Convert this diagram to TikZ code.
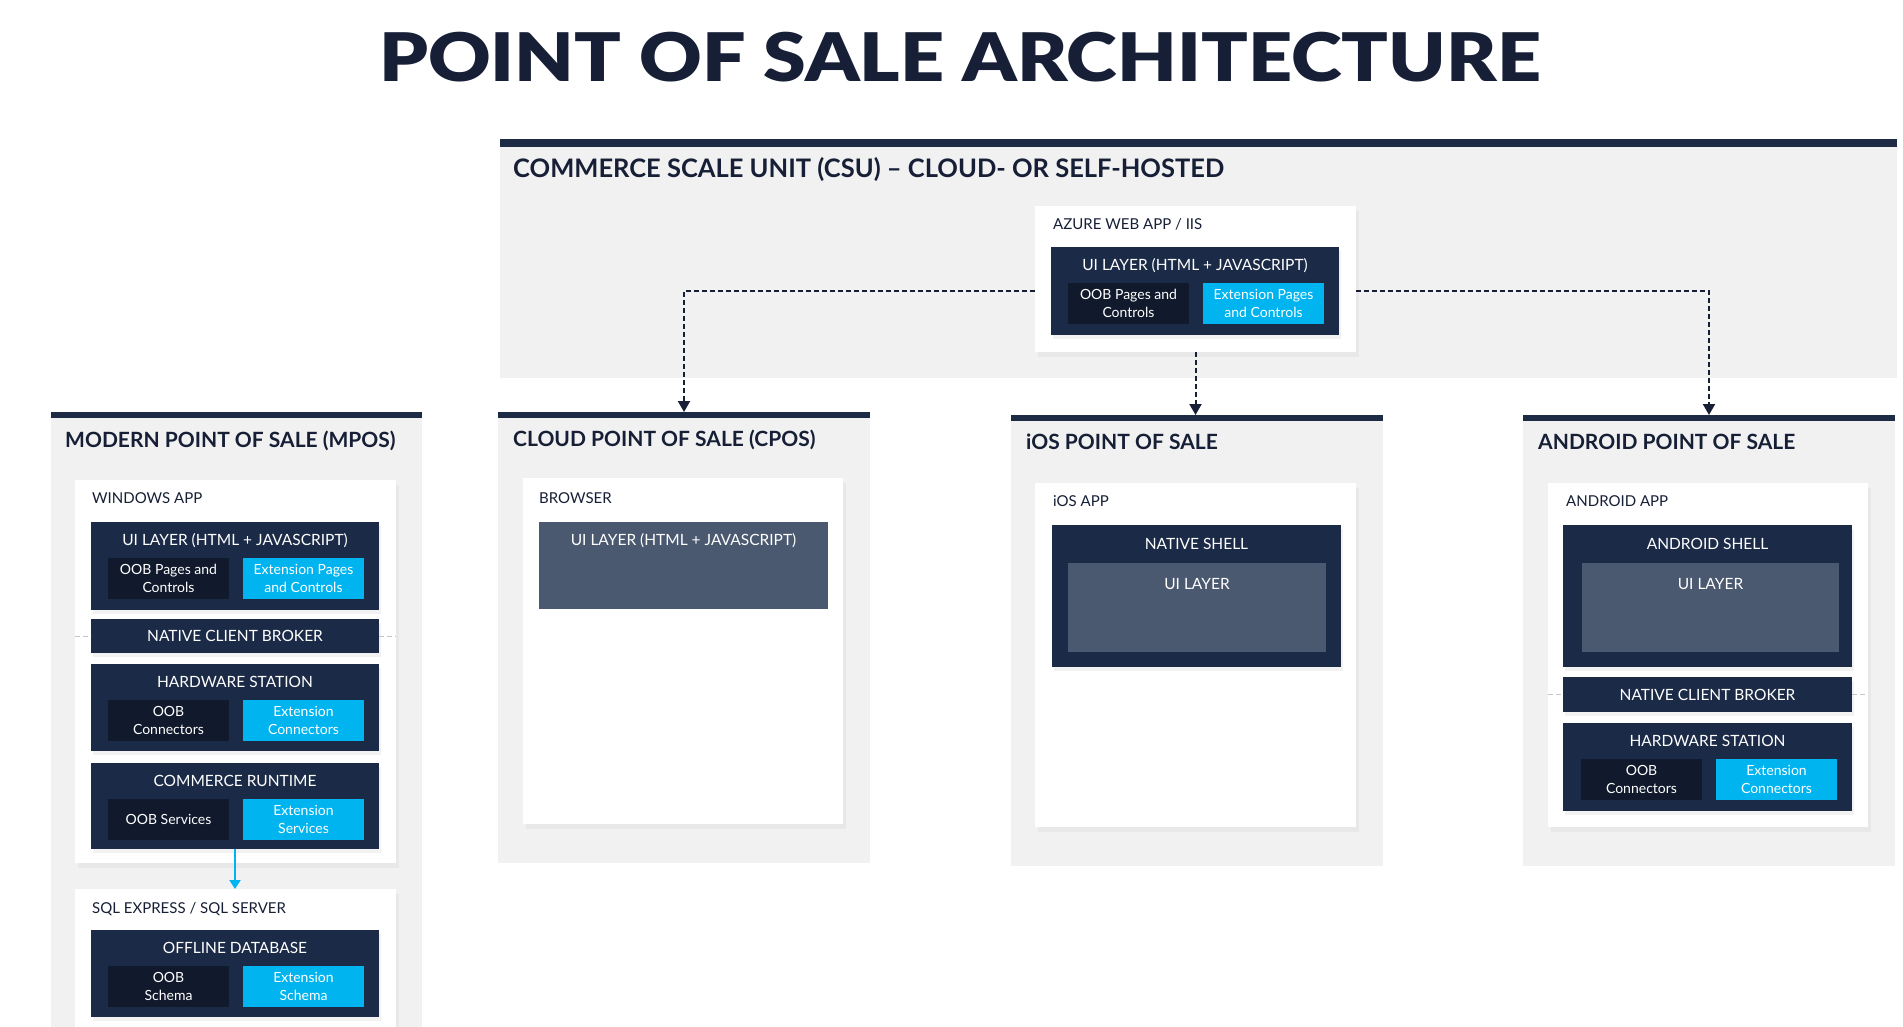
\documentclass[tikz,border=0pt]{standalone}
\usepackage{fontspec}
\setmainfont{Lato}
\newfontfamily\blackfont{Lato Black}
\usetikzlibrary{positioning, arrows.meta, shadows}

\definecolor{navy}{HTML}{1B2A47}
\definecolor{oobnavy}{HTML}{111A2D}
\definecolor{extcyan}{HTML}{00B4EF}
\definecolor{slate}{HTML}{4A5870}
\definecolor{panelgray}{HTML}{F1F1F2}
\definecolor{barnavy}{HTML}{1D2B45}
\definecolor{inkdark}{HTML}{161F35}

\begin{document}
\begin{tikzpicture}[x=1pt, y=-1pt,
    % Define node styles
    box/.style={
        rectangle,
        anchor=north west,
        inner sep=0pt,
        outer sep=0pt
    },
    bar/.style={box, fill=barnavy, minimum height=6pt},
    panel/.style={box, fill=panelgray},
    app/.style={
        box,
        fill=white,
        drop shadow={shadow xshift=3pt, shadow yshift=-5pt, opacity=0.08}
    },
    layer/.style={
        box,
        fill=navy,
        text=white,
        font=\fontsize{15.5}{18}\selectfont,
        drop shadow={shadow xshift=2pt, shadow yshift=-4pt, opacity=0.10}
    },
    uilayer/.style={box, fill=slate},
    sub/.style={
        box,
        minimum width=121pt,
        minimum height=41pt,
        align=center,
        text=white,
        font=\fontsize{14}{18.5}\selectfont
    },
    oob/.style={sub, fill=oobnavy},
    ext/.style={sub, fill=extcyan},
    hdr/.style={
        anchor=base west,
        inner sep=0pt,
        text=inkdark,
        font=\bfseries\fontsize{21}{24}\selectfont
    },
    applbl/.style={
        anchor=base west,
        inner sep=0pt,
        text=inkdark,
        font=\fontsize{15}{18}\selectfont
    },
    ltitle/.style={
        anchor=base,
        inner sep=0pt,
        text=white,
        font=\fontsize{15.5}{18}\selectfont
    },
    link/.style={
        draw=inkdark,
        line width=2pt,
        dash pattern=on 5pt off 3pt,
        -{Triangle[length=11pt, width=12pt]}
    },
    dblink/.style={
        draw=extcyan,
        line width=2pt,
        -{Triangle[length=9pt, width=11pt]}
    },
    broker/.style={draw=gray!45, line width=1pt, dash pattern=on 5pt off 3pt}
]
    \useasboundingbox (0,0) rectangle (1903,1026);
    \clip (0,0) rectangle (1903,1026);

    % Title
    \node[font=\blackfont\fontsize{67}{70}\selectfont, text=inkdark, xscale=1.15] (title) at (960,57) {POINT OF SALE ARCHITECTURE};

    % Commerce scale unit
    \node[bar, minimum width=1397pt, minimum height=8pt] (csubar) at (500,139) {};
    \node[panel, minimum width=1397pt, minimum height=231pt] (csu) at (csubar.south west) {};
    \node[hdr, font=\bfseries\fontsize{25.5}{28}\selectfont] at (513,177) {COMMERCE SCALE UNIT (CSU) -- CLOUD- OR SELF-HOSTED};
    \node[app, minimum width=321pt, minimum height=146pt] (azure) at (1035,206) {};
    \node[applbl] at (1053,229) {AZURE WEB APP / IIS};
    \node[layer, minimum width=288pt, minimum height=88pt] (azui) at (1051,247) {};
    \node[ltitle] at ([yshift=-23pt]azui.north) {UI LAYER (HTML + JAVASCRIPT)};
    \node[oob] (azuioob) at ([xshift=17pt, yshift=-36pt]azui.north west) {OOB Pages and\\Controls};
    \node[ext] (azuiext) at ([xshift=152pt, yshift=-36pt]azui.north west) {Extension Pages\\and Controls};

    % Modern point of sale
    \node[bar, minimum width=371pt] (mposbar) at (51,412) {};
    \node[panel, minimum width=371pt, minimum height=640pt] (mpos) at (mposbar.south west) {};
    \node[hdr] at (65,447) {MODERN POINT OF SALE (MPOS)};
    \node[app, minimum width=321pt, minimum height=383pt] (winapp) at (75,480) {};
    \node[applbl] at (92,503) {WINDOWS APP};
    % UI layer
    \node[layer, minimum width=288pt, minimum height=88pt] (mpui) at (91,522) {};
    \node[ltitle] at ([yshift=-23pt]mpui.north) {UI LAYER (HTML + JAVASCRIPT)};
    \node[oob] (mpuioob) at ([xshift=17pt, yshift=-36pt]mpui.north west) {OOB Pages and\\Controls};
    \node[ext] (mpuiext) at ([xshift=152pt, yshift=-36pt]mpui.north west) {Extension Pages\\and Controls};
    % Native client broker
    \node[layer, minimum width=288pt, minimum height=34pt] (mpncb) at (91,619) {NATIVE CLIENT BROKER};
    \draw[broker] (winapp.west |- mpncb) -- (mpncb.west);
    \draw[broker] (mpncb.east) -- (winapp.east |- mpncb);
    % Hardware station
    \node[layer, minimum width=288pt, minimum height=87pt] (mphw) at (91,664) {};
    \node[ltitle] at ([yshift=-23pt]mphw.north) {HARDWARE STATION};
    \node[oob] (mphwoob) at ([xshift=17pt, yshift=-36pt]mphw.north west) {OOB\\Connectors};
    \node[ext] (mphwext) at ([xshift=152pt, yshift=-36pt]mphw.north west) {Extension\\Connectors};
    % Commerce runtime
    \node[layer, minimum width=288pt, minimum height=86pt] (mpcrt) at (91,763) {};
    \node[ltitle] at ([yshift=-23pt]mpcrt.north) {COMMERCE RUNTIME};
    \node[oob] (mpcrtoob) at ([xshift=17pt, yshift=-36pt]mpcrt.north west) {OOB Services};
    \node[ext] (mpcrtext) at ([xshift=152pt, yshift=-36pt]mpcrt.north west) {Extension\\Services};
    % Offline database
    \node[app, minimum width=321pt, minimum height=170pt] (sqlapp) at (75,889) {};
    \node[applbl] at (92,913) {SQL EXPRESS / SQL SERVER};
    \node[layer, minimum width=288pt, minimum height=87pt] (mpdb) at (91,930) {};
    \node[ltitle] at ([yshift=-23pt]mpdb.north) {OFFLINE DATABASE};
    \node[oob] (mpdboob) at ([xshift=17pt, yshift=-36pt]mpdb.north west) {OOB\\Schema};
    \node[ext] (mpdbext) at ([xshift=152pt, yshift=-36pt]mpdb.north west) {Extension\\Schema};
    \draw[dblink] (mpcrt.south) -- (mpcrt.south |- sqlapp.north);

    % Cloud point of sale
    \node[bar, minimum width=372pt] (cposbar) at (498,412) {};
    \node[panel, minimum width=372pt, minimum height=445pt] (cpos) at (cposbar.south west) {};
    \node[hdr] at (513,446) {CLOUD POINT OF SALE (CPOS)};
    \node[app, minimum width=320pt, minimum height=346pt] (browser) at (523,478) {};
    \node[applbl] at (539,503) {BROWSER};
    \node[uilayer, minimum width=289pt, minimum height=87pt] (cpui) at (539,522) {};
    \node[ltitle] at ([yshift=-23pt]cpui.north) {UI LAYER (HTML + JAVASCRIPT)};

    % iOS point of sale
    \node[bar, minimum width=372pt] (iosbar) at (1011,415) {};
    \node[panel, minimum width=372pt, minimum height=445pt] (ios) at (iosbar.south west) {};
    \node[hdr] at (1026,449) {iOS POINT OF SALE};
    \node[app, minimum width=321pt, minimum height=344pt] (iosapp) at (1035,483) {};
    \node[applbl] at (1053,506) {iOS APP};
    \node[layer, minimum width=289pt, minimum height=142pt] (iosshell) at (1052,525) {};
    \node[ltitle] at ([yshift=-24pt]iosshell.north) {NATIVE SHELL};
    \node[uilayer, minimum width=258pt, minimum height=89pt] (iosui) at (1068,563) {};
    \node[ltitle] at ([yshift=-26pt]iosui.north) {UI LAYER};

    % Android point of sale
    \node[bar, minimum width=372pt] (andbar) at (1523,415) {};
    \node[panel, minimum width=372pt, minimum height=445pt] (and) at (andbar.south west) {};
    \node[hdr] at (1538,449) {ANDROID POINT OF SALE};
    \node[app, minimum width=320pt, minimum height=344pt] (andapp) at (1548,483) {};
    \node[applbl] at (1566,506) {ANDROID APP};
    \node[layer, minimum width=289pt, minimum height=142pt] (andshell) at (1563,525) {};
    \node[ltitle] at ([yshift=-24pt]andshell.north) {ANDROID SHELL};
    \node[uilayer, minimum width=257pt, minimum height=89pt] (andui) at (1582,563) {};
    \node[ltitle] at ([yshift=-26pt]andui.north) {UI LAYER};
    \node[layer, minimum width=289pt, minimum height=35pt] (andncb) at (1563,677) {NATIVE CLIENT BROKER};
    \draw[broker] (andapp.west |- andncb) -- (andncb.west);
    \draw[broker] (andncb.east) -- (andapp.east |- andncb);
    \node[layer, minimum width=289pt, minimum height=88pt] (andhw) at (1563,723) {};
    \node[ltitle] at ([yshift=-23pt]andhw.north) {HARDWARE STATION};
    \node[oob] (andhwoob) at ([xshift=18pt, yshift=-36pt]andhw.north west) {OOB\\Connectors};
    \node[ext] (andhwext) at ([xshift=153pt, yshift=-36pt]andhw.north west) {Extension\\Connectors};

    % Connectors from the CSU
    \draw[link] (azure.west |- azui.center) -| (cposbar.north);
    \draw[link] (azure.east |- azui.center) -| (andbar.north);
    \draw[link] (azure.south) -- (azure.south |- iosbar.north);
\end{tikzpicture}
\end{document}
